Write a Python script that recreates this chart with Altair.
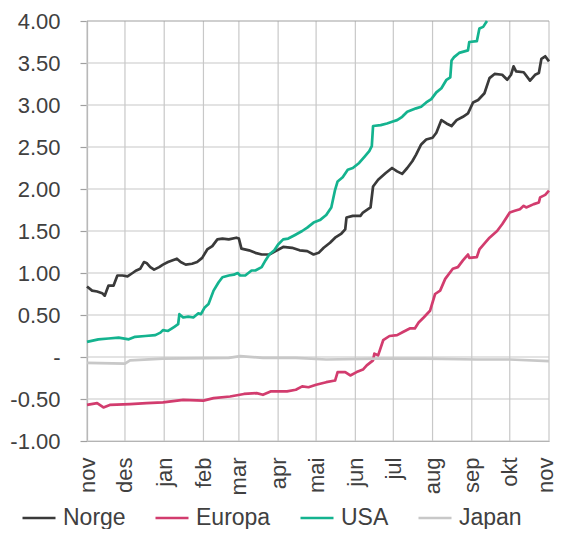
import altair as alt
import pandas as pd

# ---------------- data ----------------
series_names = ["Norge", "Europa", "USA", "Japan"]
series_colors = ["#3a3a3a", "#d23c6e", "#14b38f", "#c8c8c8"]
series_widths = [2.7, 2.7, 2.7, 3.6]

month_names = ["jan", "feb", "mar", "apr", "mai", "jun", "jul", "aug", "sep", "okt", "nov", "des"]
month_ticks = ["2021-11-01", "2021-12-01", "2022-01-01", "2022-02-01", "2022-03-01",
               "2022-04-01", "2022-05-01", "2022-06-01", "2022-07-01", "2022-08-01",
               "2022-09-01", "2022-10-01", "2022-11-01"]
y_ticks = [-1.0, -0.5, 0.0, 0.5, 1.0, 1.5, 2.0, 2.5, 3.0, 3.5, 4.0]

norge_dates = ["2021-11-01", "2021-11-05", "2021-11-09", "2021-11-13", "2021-11-15", "2021-11-18",
               "2021-11-22", "2021-11-25", "2021-11-29", "2021-12-03", "2021-12-07", "2021-12-10",
               "2021-12-13", "2021-12-16", "2021-12-18", "2021-12-21", "2021-12-24", "2021-12-28",
               "2021-12-31", "2022-01-04", "2022-01-11", "2022-01-14", "2022-01-18", "2022-01-23",
               "2022-01-27", "2022-01-31", "2022-02-04", "2022-02-08", "2022-02-12", "2022-02-16",
               "2022-02-21", "2022-02-27", "2022-03-01", "2022-03-03", "2022-03-09", "2022-03-14",
               "2022-03-19", "2022-03-25", "2022-03-30", "2022-04-05", "2022-04-12", "2022-04-18",
               "2022-04-24", "2022-04-29", "2022-05-03", "2022-05-07", "2022-05-12", "2022-05-16",
               "2022-05-21", "2022-05-24", "2022-05-25", "2022-05-30", "2022-06-05", "2022-06-07",
               "2022-06-13", "2022-06-15", "2022-06-19", "2022-06-25", "2022-06-30", "2022-07-04",
               "2022-07-08", "2022-07-12", "2022-07-16", "2022-07-19", "2022-07-23", "2022-07-27",
               "2022-08-01", "2022-08-04", "2022-08-08", "2022-08-12", "2022-08-16", "2022-08-20",
               "2022-08-25", "2022-08-29", "2022-09-02", "2022-09-06", "2022-09-11", "2022-09-15",
               "2022-09-19", "2022-09-25", "2022-09-29", "2022-10-02", "2022-10-04", "2022-10-06",
               "2022-10-12", "2022-10-17", "2022-10-21", "2022-10-24", "2022-10-26", "2022-10-29",
               "2022-11-01"]
norge_values = [0.84, 0.79, 0.78, 0.76, 0.73, 0.85,
                0.85, 0.97, 0.97, 0.96, 1.00, 1.03,
                1.05, 1.13, 1.12, 1.07, 1.04, 1.07,
                1.10, 1.13, 1.17, 1.13, 1.10, 1.11,
                1.13, 1.18, 1.28, 1.32, 1.40, 1.41,
                1.40, 1.42, 1.41, 1.29, 1.27, 1.24,
                1.22, 1.22, 1.26, 1.31, 1.30, 1.27,
                1.26, 1.22, 1.24, 1.30, 1.36, 1.42,
                1.47, 1.52, 1.66, 1.68, 1.68, 1.72,
                1.78, 2.03, 2.11, 2.19, 2.25, 2.21,
                2.18, 2.25, 2.33, 2.41, 2.53, 2.59,
                2.61, 2.67, 2.82, 2.78, 2.75, 2.82,
                2.86, 2.90, 3.03, 3.06, 3.14, 3.32,
                3.37, 3.36, 3.30, 3.36, 3.46, 3.40,
                3.39, 3.29, 3.36, 3.38, 3.55, 3.58,
                3.52]

europa_dates = ["2021-11-01", "2021-11-09", "2021-11-14", "2021-11-19", "2021-12-05", "2021-12-18",
                "2021-12-31", "2022-01-16", "2022-02-01", "2022-02-09", "2022-02-22", "2022-03-05",
                "2022-03-15", "2022-03-20", "2022-03-26", "2022-04-02", "2022-04-08", "2022-04-15",
                "2022-04-20", "2022-04-25", "2022-05-01", "2022-05-09", "2022-05-16", "2022-05-18",
                "2022-05-24", "2022-05-28", "2022-06-02", "2022-06-07", "2022-06-10", "2022-06-15",
                "2022-06-16", "2022-06-19", "2022-06-23", "2022-06-28", "2022-07-04", "2022-07-09",
                "2022-07-14", "2022-07-18", "2022-07-21", "2022-07-25", "2022-07-30", "2022-08-03",
                "2022-08-07", "2022-08-11", "2022-08-17", "2022-08-21", "2022-08-25", "2022-08-29",
                "2022-08-30", "2022-09-05", "2022-09-07", "2022-09-15", "2022-09-21", "2022-09-25",
                "2022-10-01", "2022-10-05", "2022-10-09", "2022-10-12", "2022-10-14", "2022-10-20",
                "2022-10-24", "2022-10-25", "2022-10-29", "2022-11-01"]
europa_values = [-0.57, -0.55, -0.60, -0.57, -0.56, -0.55,
                 -0.54, -0.51, -0.52, -0.49, -0.47, -0.44,
                 -0.43, -0.45, -0.41, -0.41, -0.41, -0.39,
                 -0.35, -0.36, -0.33, -0.30, -0.28, -0.18,
                 -0.18, -0.22, -0.18, -0.15, -0.10, -0.04,
                 0.04, 0.02, 0.20, 0.25, 0.26, 0.30,
                 0.34, 0.34, 0.41, 0.47, 0.55, 0.75,
                 0.79, 0.93, 1.05, 1.07, 1.15, 1.22,
                 1.18, 1.19, 1.28, 1.42, 1.50, 1.58,
                 1.72, 1.74, 1.76, 1.80, 1.78, 1.82,
                 1.84, 1.90, 1.93, 1.98]

usa_dates = ["2021-11-01", "2021-11-10", "2021-11-18", "2021-11-26", "2021-12-04", "2021-12-09",
             "2021-12-17", "2021-12-25", "2021-12-29", "2021-12-31", "2022-01-04", "2022-01-09",
             "2022-01-12", "2022-01-13", "2022-01-16", "2022-01-20", "2022-01-24", "2022-01-28",
             "2022-01-30", "2022-02-02", "2022-02-05", "2022-02-09", "2022-02-13", "2022-02-16",
             "2022-02-21", "2022-02-25", "2022-02-28", "2022-03-02", "2022-03-06", "2022-03-11",
             "2022-03-14", "2022-03-19", "2022-03-22", "2022-03-25", "2022-03-29", "2022-04-01",
             "2022-04-05", "2022-04-09", "2022-04-14", "2022-04-20", "2022-04-24", "2022-04-29",
             "2022-05-04", "2022-05-09", "2022-05-13", "2022-05-16", "2022-05-18", "2022-05-22",
             "2022-05-26", "2022-05-30", "2022-06-04", "2022-06-08", "2022-06-12", "2022-06-14",
             "2022-06-15", "2022-06-21", "2022-06-26", "2022-06-30", "2022-07-04", "2022-07-08",
             "2022-07-12", "2022-07-19", "2022-07-23", "2022-07-27", "2022-07-31", "2022-08-04",
             "2022-08-08", "2022-08-12", "2022-08-15", "2022-08-16", "2022-08-18", "2022-08-22",
             "2022-08-29", "2022-08-30", "2022-09-05", "2022-09-07", "2022-09-10", "2022-09-13"]
usa_values = [0.18, 0.21, 0.22, 0.23, 0.21, 0.24,
              0.25, 0.26, 0.29, 0.32, 0.31, 0.36,
              0.39, 0.51, 0.47, 0.48, 0.47, 0.52,
              0.51, 0.59, 0.63, 0.79, 0.89, 0.95,
              0.97, 0.98, 1.00, 0.97, 0.97, 1.03,
              1.03, 1.07, 1.15, 1.22, 1.27, 1.34,
              1.40, 1.41, 1.45, 1.50, 1.54, 1.60,
              1.63, 1.69, 1.78, 1.99, 2.09, 2.14,
              2.23, 2.25, 2.31, 2.38, 2.45, 2.51,
              2.75, 2.76, 2.78, 2.80, 2.82, 2.86,
              2.92, 2.96, 2.98, 3.03, 3.07, 3.15,
              3.20, 3.30, 3.33, 3.53, 3.57, 3.62,
              3.65, 3.75, 3.76, 3.91, 3.93, 4.00]

japan_dates = ["2021-11-01", "2021-12-01", "2021-12-05", "2021-12-31", "2022-02-21", "2022-03-02",
               "2022-03-20", "2022-04-15", "2022-05-09", "2022-06-18", "2022-07-27", "2022-09-05",
               "2022-10-01", "2022-11-01"]
japan_values = [-0.07, -0.08, -0.04, -0.02, -0.01, 0.01,
                -0.01, -0.01, -0.03, -0.02, -0.02, -0.03,
                -0.03, -0.05]

# ---------------- tables ----------------
frames = []
for name, d, v in [("Norge", norge_dates, norge_values), ("Europa", europa_dates, europa_values),
                   ("USA", usa_dates, usa_values), ("Japan", japan_dates, japan_values)]:
    frames.append(pd.DataFrame({"date": d, "value": v, "series": name}))
df = pd.concat(frames, ignore_index=True)

# grid lines built from the tick lists (each as a two-point line through the scales)
grid_rows = []
for i, t in enumerate(month_ticks):
    for v in (y_ticks[0], y_ticks[-1]):
        grid_rows.append({"date": t, "value": v, "gid": "v%d" % i})
for j, v in enumerate(y_ticks[:-1]):
    for t in (month_ticks[0], month_ticks[-1]):
        grid_rows.append({"date": t, "value": v, "gid": "h%d" % j})
grid_df = pd.DataFrame(grid_rows)
top_df = pd.DataFrame({"date": [month_ticks[0], month_ticks[-1]],
                       "value": [y_ticks[-1], y_ticks[-1]]})


def ms(s):
    return int(pd.Timestamp(s, tz="UTC").value // 10**6)


tick_ms = [ms(s) for s in month_ticks]
month_expr = "[" + ",".join("'" + m + "'" for m in month_names) + "][utcmonth(datum.value)]"
y_expr = ("datum.value == 0 ? '-' : (datum.value < 0 ? '-' + format(-datum.value, '.2f') "
          ": format(datum.value, '.2f'))")

FONT = "Liberation Sans"
TXT = "#404040"
AXIS_C = "#a0a0a0"
GRID_C = "#c8c8c8"

x_scale = alt.Scale(type="utc", domain=[tick_ms[0], tick_ms[-1]], nice=False)
y_scale = alt.Scale(domain=[y_ticks[0], y_ticks[-1]], nice=False, zero=False)

x_axis = alt.Axis(
    values=tick_ms, labelExpr=month_expr, labelAngle=270,
    labelFont=FONT, labelFontSize=22, labelColor=TXT, labelPadding=16,
    labelOffset={"condition": {"test": "datum.value >= %d" % tick_ms[-1], "value": -4}, "value": 0},
    ticks=False, domainColor=AXIS_C, domainWidth=1.2, grid=False,
)

y_axis = alt.Axis(
    values=y_ticks, labelExpr=y_expr,
    labelFont=FONT, labelFontSize=22, labelColor=TXT, labelPadding=20,
    tickSize=7, tickColor=AXIS_C, tickWidth=1.2, domainColor=AXIS_C, domainWidth=1.2, grid=False,
)

legend = alt.Legend(
    title=None, orient="none", direction="horizontal", columns=4,
    legendX=-66, legendY=479, padding=0,
    labelFont=FONT, labelFontSize=23, labelColor=TXT, labelOffset=6,
    symbolSize=1089, columnPadding=24, symbolType="stroke",
)

grid = alt.Chart(grid_df).mark_line(stroke=GRID_C, strokeWidth=1.2).encode(
    x=alt.X("date:T", scale=x_scale, title=None, axis=x_axis),
    y=alt.Y("value:Q", scale=y_scale, title=None, axis=y_axis),
    detail="gid:N",
)

top = alt.Chart(top_df).mark_line(stroke=AXIS_C, strokeWidth=1.2).encode(
    x=alt.X("date:T", scale=x_scale, title=None, axis=x_axis),
    y=alt.Y("value:Q", scale=y_scale, title=None, axis=y_axis),
)

lines = alt.Chart(df).mark_line(strokeJoin="round").encode(
    x=alt.X("date:T", scale=x_scale, title=None, axis=x_axis),
    y=alt.Y("value:Q", scale=y_scale, title=None, axis=y_axis),
    color=alt.Color("series:N", scale=alt.Scale(domain=series_names, range=series_colors),
                    legend=legend),
    strokeWidth=alt.StrokeWidth("series:N",
                                scale=alt.Scale(domain=series_names, range=series_widths),
                                legend=legend),
)

chart = alt.layer(grid, top, lines).properties(
    width=462, height=420,
    autosize=alt.AutoSizeParams(type="none"),
    padding={"left": 79, "top": 13, "right": 6, "bottom": 88},
).configure_view(stroke=None)

chart.save("out.html", embed_options={"renderer": "svg", "actions": False})
